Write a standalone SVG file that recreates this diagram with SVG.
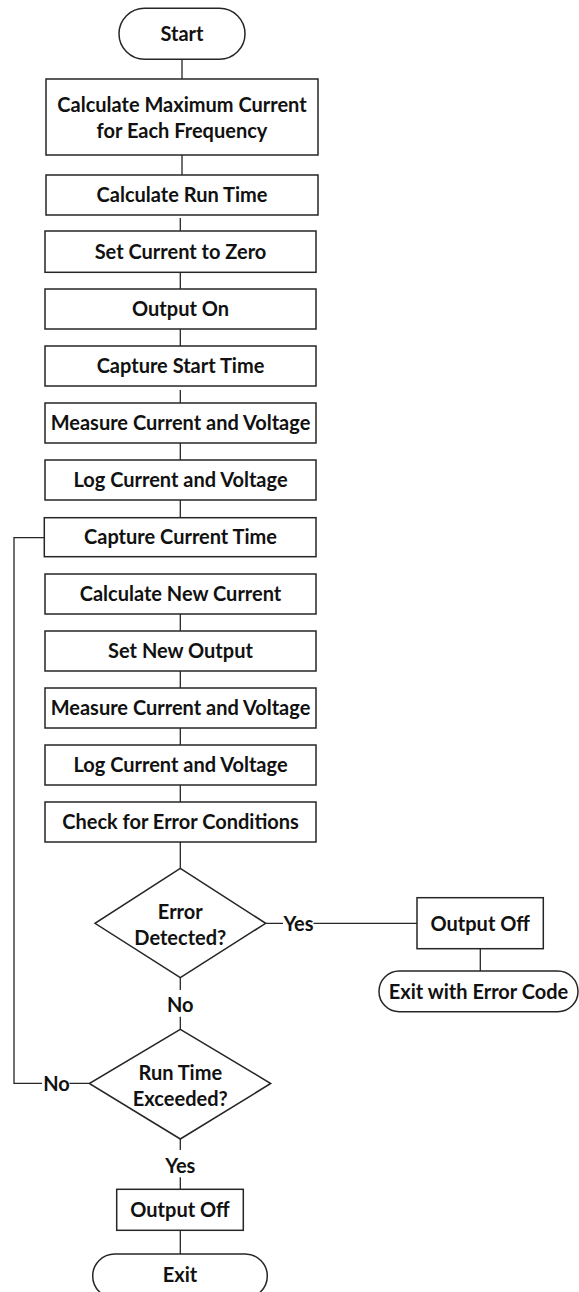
<svg xmlns="http://www.w3.org/2000/svg" width="579" height="1292" viewBox="0 0 579 1292">
<style>
.s{fill:#fff;stroke:#262626;stroke-width:1.5}
.c{fill:none;stroke:#262626;stroke-width:1.3}
text{font-family:Lato,"Open Sans","Liberation Sans",sans-serif;font-weight:bold;font-size:20px;fill:#111;text-anchor:middle}
</style>
<rect width="579" height="1292" fill="#fff"/>
<g id="connectors">
<path class="c" d="M182,59.3V79 M182,155V175 M180.3,218V231 M180.3,272.3V289 M180.3,329V346 M180.3,390V403 M180.3,443V460 M180.3,500V517.7 M180.3,614V631 M180.3,671V688 M180.3,728V745 M180.3,785V802 M180.3,842V868.3"/>
<path class="c" d="M180.3,977.7V990 M180.3,1016.7V1029.3"/>
<path class="c" d="M265.7,923.3H283 M313.5,923.3H417 M480.3,948.7V971"/>
<path class="c" d="M180.3,1139V1150 M180.3,1177.3V1189.3 M180.3,1230.3V1254"/>
<path class="c" d="M44.3,537.7H14V1083.3H42 M69.5,1083.3H89.3"/>
<text x="298.5" y="930.5">Yes</text>
<text x="180.3" y="1011.5">No</text>
<text x="56.5" y="1091">No</text>
<text x="180.3" y="1172.5">Yes</text>
</g>
<g id="start"><rect class="s" x="119" y="8.3" width="126" height="51" rx="25.5"/><text x="182" y="41">Start</text></g>
<g id="calc-max"><rect class="s" x="46" y="79" width="272" height="76"/><text x="182" y="112">Calculate Maximum Current</text><text x="182" y="137.7">for Each Frequency</text></g>
<g id="calc-run"><rect class="s" x="46" y="175" width="272" height="40"/><text x="182" y="202">Calculate Run Time</text></g>
<g id="set-zero"><rect class="s" x="45" y="231" width="271" height="41.3"/><text x="180.5" y="258.5">Set Current to Zero</text></g>
<g id="output-on"><rect class="s" x="45" y="289" width="271" height="40"/><text x="180.5" y="316">Output On</text></g>
<g id="capture-start"><rect class="s" x="45" y="346" width="271" height="40"/><text x="180.5" y="373">Capture Start Time</text></g>
<g id="measure-1"><rect class="s" x="45" y="403" width="271" height="40"/><text x="180.5" y="430">Measure Current and Voltage</text></g>
<g id="log-1"><rect class="s" x="45" y="460" width="271" height="40"/><text x="180.5" y="487">Log Current and Voltage</text></g>
<g id="capture-current"><rect class="s" x="44.3" y="517.7" width="271.7" height="39"/><text x="180.5" y="544">Capture Current Time</text></g>
<g id="calc-new"><rect class="s" x="45" y="574" width="271" height="40"/><text x="180.5" y="601">Calculate New Current</text></g>
<g id="set-new"><rect class="s" x="45" y="631" width="271" height="40"/><text x="180.5" y="658">Set New Output</text></g>
<g id="measure-2"><rect class="s" x="45" y="688" width="271" height="40"/><text x="180.5" y="715">Measure Current and Voltage</text></g>
<g id="log-2"><rect class="s" x="45" y="745" width="271" height="40"/><text x="180.5" y="772">Log Current and Voltage</text></g>
<g id="check-error"><rect class="s" x="45" y="802" width="271" height="40"/><text x="180.5" y="829">Check for Error Conditions</text></g>
<g id="error-detected"><polygon class="s" points="180.3,868.3 265.7,923.3 180.3,977.7 95,923.3"/><text x="180.3" y="918.5">Error</text><text x="180.3" y="945">Detected?</text></g>
<g id="output-off-err"><rect class="s" x="417" y="897.7" width="126.3" height="51"/><text x="480.2" y="930.5">Output Off</text></g>
<g id="exit-error"><rect class="s" x="379" y="971" width="199" height="40.7" rx="20.3"/><text x="478.5" y="998.5">Exit with Error Code</text></g>
<g id="run-time"><polygon class="s" points="180.3,1029.3 270.7,1083.5 180.3,1139 89.3,1083.5"/><text x="180.3" y="1079.5">Run Time</text><text x="180.3" y="1105.5">Exceeded?</text></g>
<g id="output-off"><rect class="s" x="116.7" y="1189.3" width="126.6" height="41"/><text x="180" y="1217">Output Off</text></g>
<g id="exit"><rect class="s" x="92.7" y="1254" width="174.6" height="44" rx="22"/><text x="180" y="1282">Exit</text></g>
</svg>
